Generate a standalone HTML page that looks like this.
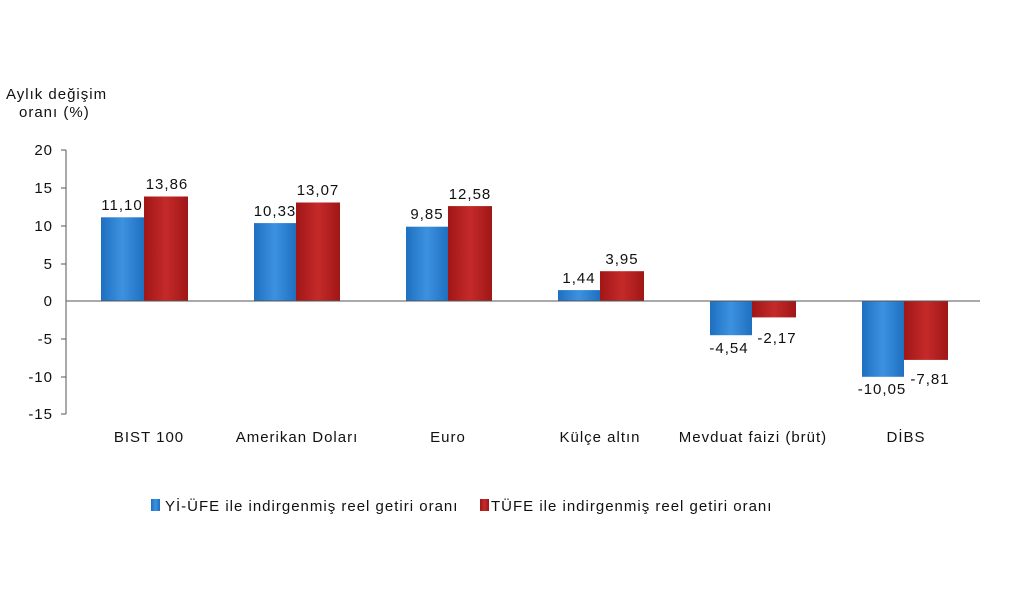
<!DOCTYPE html>
<html><head><meta charset="utf-8"><style>
body{margin:0;background:#fff;}
svg text{font-family:"Liberation Sans",Arial,sans-serif;fill:#111;letter-spacing:1px;}
</style></head><body>
<svg width="1024" height="607" viewBox="0 0 1024 607" xmlns="http://www.w3.org/2000/svg">
<defs>
<linearGradient id="b" x1="0" x2="1"><stop offset="0" stop-color="#1f6fc0"/><stop offset="0.5" stop-color="#3d92e0"/><stop offset="1" stop-color="#1f6fc0"/></linearGradient>
<linearGradient id="r" x1="0" x2="1"><stop offset="0" stop-color="#a01616"/><stop offset="0.5" stop-color="#c52a2a"/><stop offset="1" stop-color="#a01616"/></linearGradient>
</defs>
<text x="6" y="99" font-size="15">Aylık değişim</text>
<text x="19" y="117" font-size="15">oranı (%)</text>
<g font-size="15" text-anchor="end">
<text x="53" y="155">20</text><text x="53" y="193">15</text><text x="53" y="231">10</text><text x="53" y="269">5</text><text x="53" y="306">0</text><text x="53" y="344">-5</text><text x="53" y="382">-10</text><text x="53" y="419">-15</text>
</g>
<g stroke="#555" stroke-width="1">
<line x1="66" y1="150" x2="66" y2="414"/>
<line x1="61" y1="150" x2="66" y2="150"/><line x1="61" y1="188" x2="66" y2="188"/><line x1="61" y1="226" x2="66" y2="226"/><line x1="61" y1="264" x2="66" y2="264"/><line x1="61" y1="339" x2="66" y2="339"/><line x1="61" y1="377" x2="66" y2="377"/><line x1="61" y1="414" x2="66" y2="414"/>
</g>
<g>
<rect x="101" y="217.3" width="43" height="83.7" fill="url(#b)"/><rect x="144" y="196.5" width="44" height="104.5" fill="url(#r)"/>
<rect x="254" y="223.1" width="42" height="77.9" fill="url(#b)"/><rect x="296" y="202.5" width="44" height="98.5" fill="url(#r)"/>
<rect x="406" y="226.7" width="42" height="74.3" fill="url(#b)"/><rect x="448" y="206.1" width="44" height="94.9" fill="url(#r)"/>
<rect x="558" y="290.1" width="42" height="10.9" fill="url(#b)"/><rect x="600" y="271.2" width="44" height="29.8" fill="url(#r)"/>
<rect x="710" y="301" width="42" height="34.2" fill="url(#b)"/><rect x="752" y="301" width="44" height="16.4" fill="url(#r)"/>
<rect x="862" y="301" width="42" height="75.8" fill="url(#b)"/><rect x="904" y="301" width="44" height="58.9" fill="url(#r)"/>
</g>
<line x1="66" y1="301" x2="980" y2="301" stroke="#555" stroke-width="1"/>
<g font-size="15" text-anchor="middle">
<text x="122" y="210">11,10</text><text x="167" y="189">13,86</text>
<text x="275" y="216">10,33</text><text x="318" y="195">13,07</text>
<text x="427" y="219">9,85</text><text x="470" y="199">12,58</text>
<text x="579" y="283">1,44</text><text x="622" y="264">3,95</text>
<text x="729" y="353">-4,54</text><text x="777" y="343">-2,17</text>
<text x="882" y="394">-10,05</text><text x="930" y="384">-7,81</text>
<text x="149" y="442">BIST 100</text><text x="297" y="442">Amerikan Doları</text><text x="448" y="442">Euro</text><text x="600" y="442">Külçe altın</text><text x="753" y="442">Mevduat faizi (brüt)</text><text x="906" y="442">DİBS</text>
</g>
<rect x="151" y="499" width="9" height="12" fill="url(#b)"/>
<text x="165" y="511" font-size="15">Yİ-ÜFE ile indirgenmiş reel getiri oranı</text>
<rect x="480" y="499" width="9" height="12" fill="url(#r)"/>
<text x="491" y="511" font-size="15">TÜFE ile indirgenmiş reel getiri oranı</text>
</svg>
</body></html>
